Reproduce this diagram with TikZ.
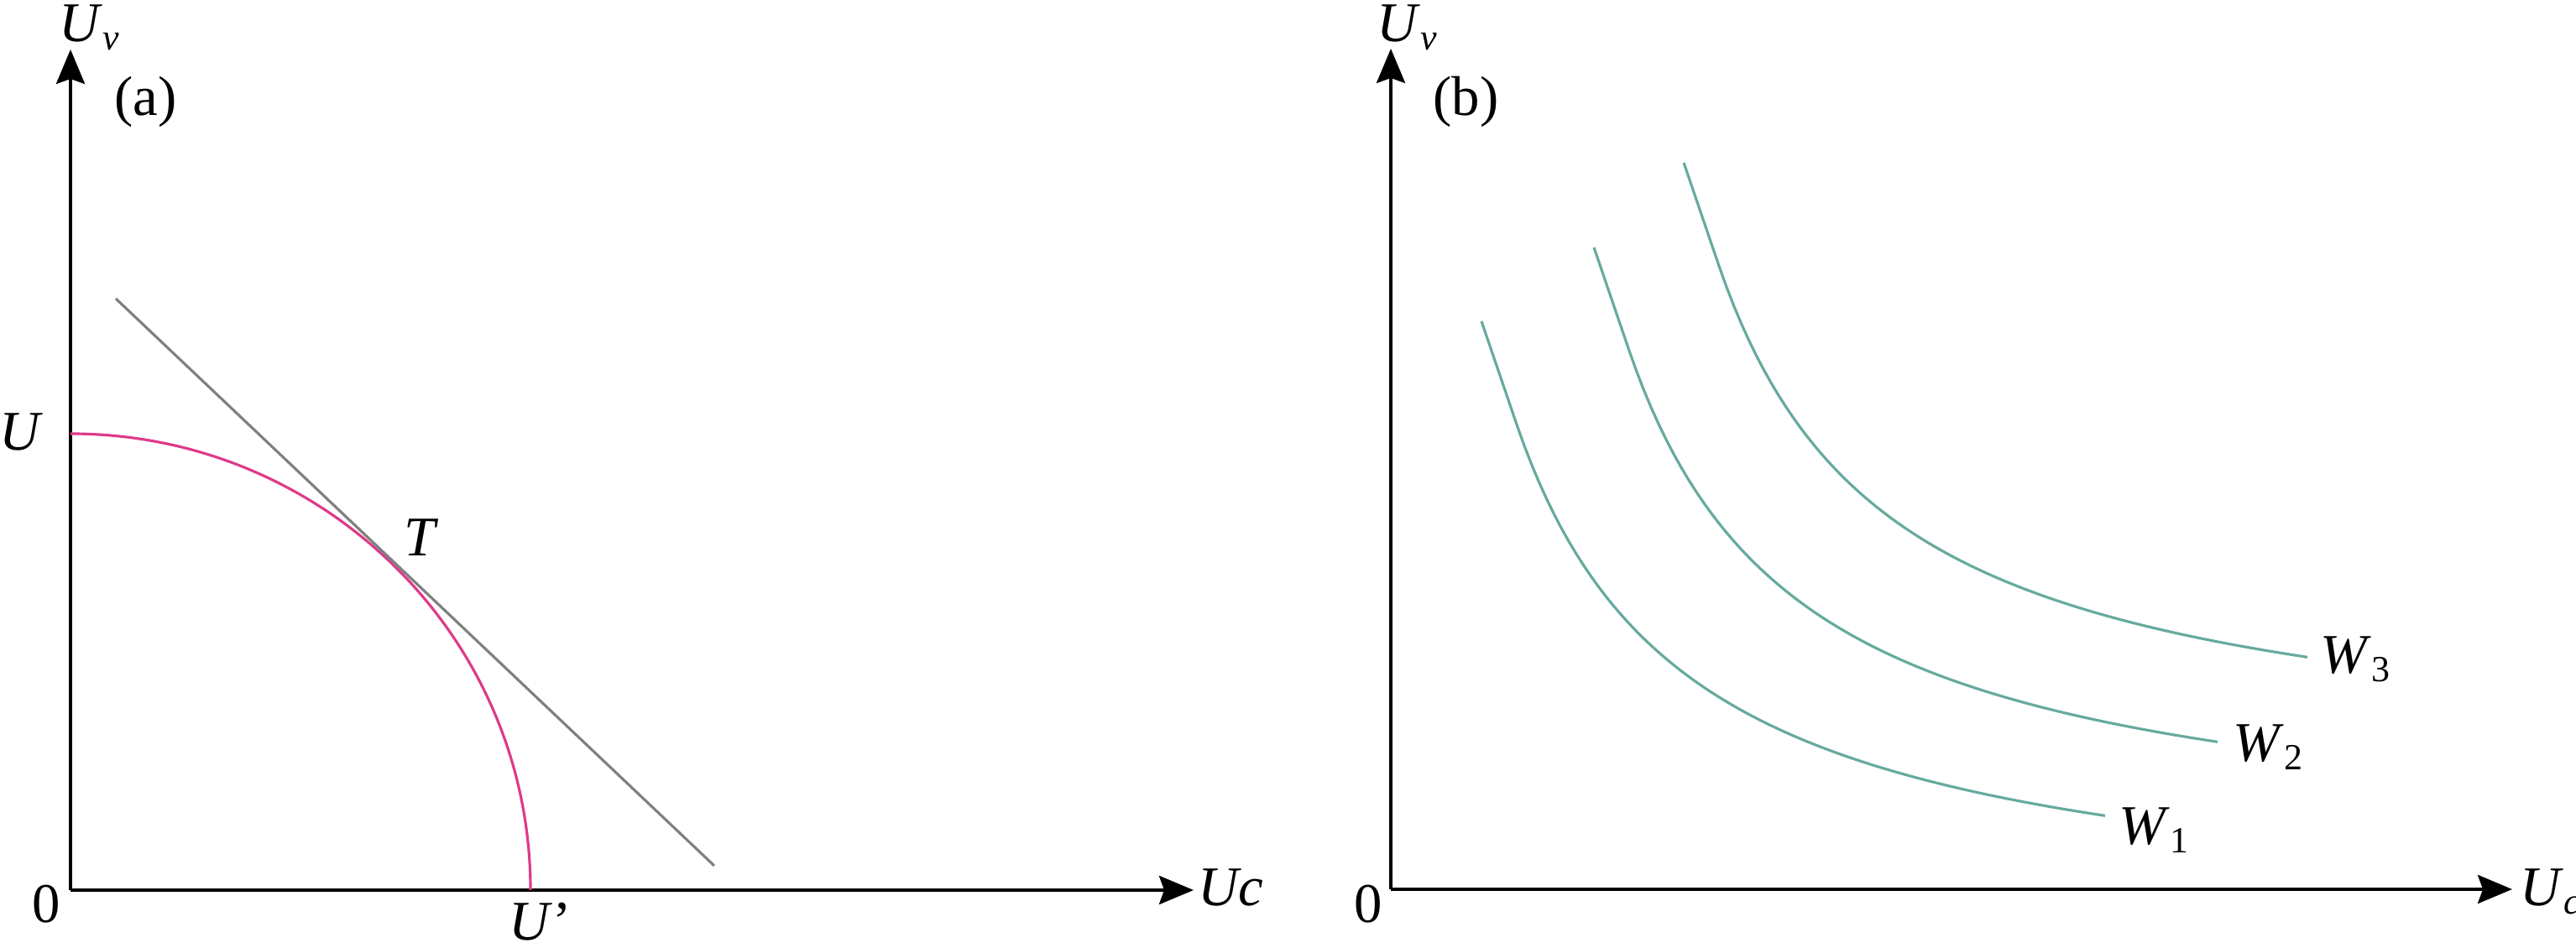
\documentclass[tikz,border=0pt]{standalone}
\usepackage{fontspec}
\setmainfont{Liberation Serif}
\usetikzlibrary{arrows.meta}
\definecolor{pinkline}{RGB}{222,58,138}
\definecolor{grayline}{RGB}{128,128,128}
\definecolor{tealline}{RGB}{102,170,158}
\tikzstyle{axis} = [line width=1.15pt, -{Stealth[length=4.1mm, width=3.4mm, inset=0.6mm]}]
\tikzstyle{lbl} = [inner sep=0pt, font=\fontsize{19}{22}\selectfont]
\tikzstyle{frontier} = [line width=0.9pt, draw=pinkline]
\tikzstyle{budget} = [line width=0.9pt, draw=grayline]
\tikzstyle{indiff} = [line width=0.9pt, draw=tealline]
\newcommand{\lowsub}[1]{\raisebox{-2.6pt}{\fontsize{12.5}{14}\selectfont #1}}

\begin{document}
\begin{tikzpicture}
\useasboundingbox (0,0) rectangle (30.69,11.3);

% panel (a)
\coordinate (Oa) at (0.84,0.69);
\coordinate (Ya) at (0.84,10.71);
\coordinate (Xa) at (14.22,0.69);
\draw [axis] (Oa) -- (Ya);
\draw [axis] (Oa) -- (Xa);
\node (Uva) [lbl, anchor=base west] at (0.70,10.80) {\textit{U}\lowsub{\textit{v}}};
\node (taga) [lbl, anchor=base west] at (1.36,9.92) {(a)};
\node (zeroa) [lbl, anchor=base] at (0.55,0.30) {0};
\node (Uca) [lbl, anchor=base west] at (14.27,0.50) {\textit{Uc}};
\node (Utop) [lbl, anchor=base] at (0.25,5.93) {\textit{U}};
\node (Uprime) [lbl, anchor=base] at (6.44,0.09) {\textit{U}\textquoteright};
\node (Tpt) [lbl, anchor=base] at (5.02,4.67) {\textit{T}};

\coordinate (Fa) at (0.84,6.13);
\draw [frontier] (Fa) arc[start angle=90, end angle=0, x radius=5.48, y radius=5.44];
\coordinate (Ba) at (1.38,7.74);
\coordinate (Bb) at (8.51,0.98);
\draw [budget] (Ba) -- (Bb);

% panel (b)
\coordinate (Ob) at (16.57,0.70);
\coordinate (Yb) at (16.57,10.72);
\coordinate (Xb) at (29.93,0.70);
\draw [axis] (Ob) -- (Yb);
\draw [axis] (Ob) -- (Xb);
\node (Uvb) [lbl, anchor=base west] at (16.40,10.80) {\textit{U}\lowsub{\textit{v}}};
\node (tagb) [lbl, anchor=base west] at (17.07,9.92) {(b)};
\node (zerob) [lbl, anchor=base] at (16.30,0.30) {0};
\node (Ucb) [lbl, anchor=base west] at (30.02,0.50) {\textit{U}\lowsub{\textit{c}}};

% indifference curves: straight start, then hyperbola, shifted copies
\foreach \dx/\dy in {0/0, 1.34/0.88, 2.41/1.89}
  \draw [indiff, shift={(\dx,\dy)}] (17.65,7.47) --
    plot[domain=1.5:8.51, samples=80, variable=\t] ({16.57+\t}, {0.70+12.5/(\t+0.57)-0.5});
\node (W1) [lbl, anchor=base west] at (25.24,1.23) {\textit{W}\lowsub{1}};
\node (W2) [lbl, anchor=base west] at (26.60,2.22) {\textit{W}\lowsub{2}};
\node (W3) [lbl, anchor=base west] at (27.64,3.27) {\textit{W}\lowsub{3}};

\end{tikzpicture}
\end{document}
